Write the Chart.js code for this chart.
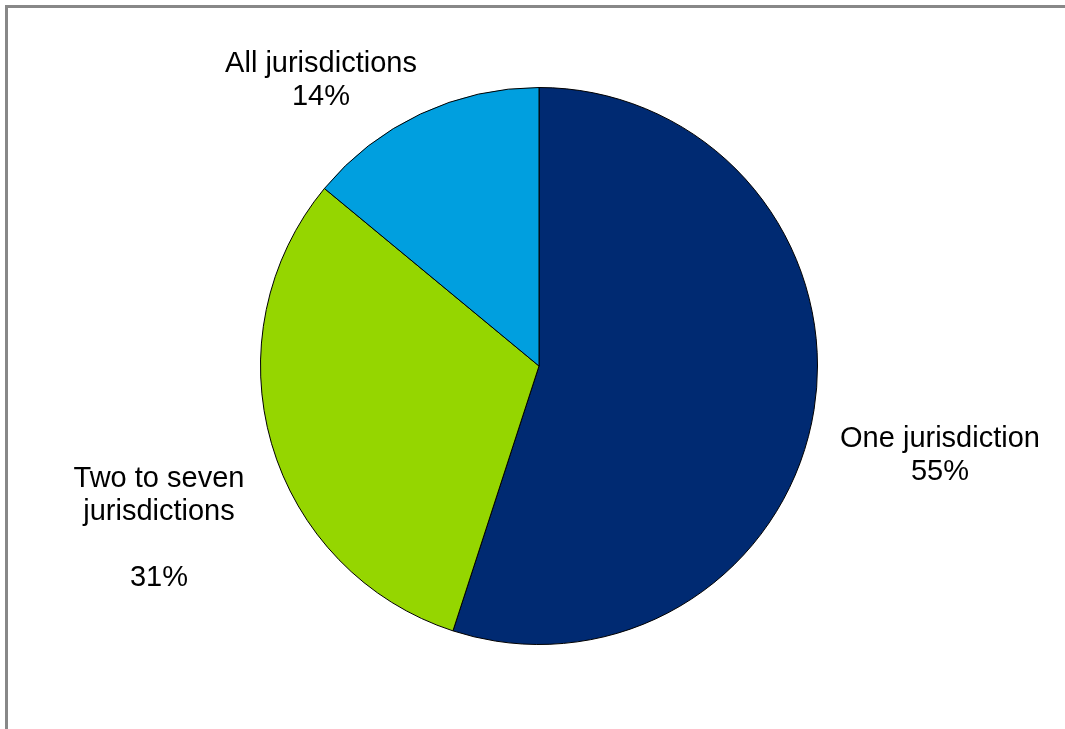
<!DOCTYPE html>
<html>
<head>
<meta charset="utf-8">
<script src="https://cdn.jsdelivr.net/npm/chart.js@4/dist/chart.umd.min.js"></script>
<style>
  html, body { margin: 0; padding: 0; background: #fff; }
  #wrap { position: relative; width: 1065px; height: 729px; }
</style>
</head>
<body>
<div id="wrap"><canvas id="myChart" width="1065" height="729"></canvas></div>
<script>
// slice names (one entry per line of the label) and shares in percent
const categories = [['One jurisdiction'], ['Two to seven', 'jurisdictions', ''], ['All jurisdictions']];
const shares = [55, 31, 14];
const colors = ['#002A72', '#95D600', '#009FDF'];

// where each label's first baseline sits, relative to the pie centre
const labelOffsets = [[401, 81], [-380, 121], [-218, -294]];

const frame = {
    id: 'frame',
    beforeDraw(chart) {
        const ctx = chart.ctx;
        ctx.save();
        ctx.strokeStyle = '#888888';
        ctx.lineWidth = 3;
        ctx.beginPath();
        ctx.moveTo(6.5, chart.height);
        ctx.lineTo(6.5, 6.5);
        ctx.lineTo(chart.width, 6.5);
        ctx.stroke();
        ctx.restore();
    }
};

const sliceLabels = {
    id: 'sliceLabels',
    afterDatasetsDraw(chart) {
        const ctx = chart.ctx;
        const arcs = chart.getDatasetMeta(0).data;
        ctx.save();
        ctx.fillStyle = '#000';
        ctx.font = '29px "Liberation Sans", Arial, sans-serif';
        ctx.textAlign = 'center';
        ctx.textBaseline = 'alphabetic';
        arcs.forEach((arc, i) => {
            const lines = categories[i].concat([shares[i] + '%']);
            const x = arc.x + labelOffsets[i][0];
            let y = arc.y + labelOffsets[i][1];
            lines.forEach(line => {
                ctx.fillText(line, x, y);
                y += 33;
            });
        });
        ctx.restore();
    }
};

const data = {
    labels: categories,
    datasets: [{
        data: shares,
        backgroundColor: colors,
        borderColor: '#000',
        borderWidth: 1
    }]
};

const config = {
    type: 'pie',
    data: data,
    options: {
        responsive: false,
        animation: false,
        events: [],
        layout: {
            padding: { top: 87, bottom: 84, left: 139, right: 126 }
        },
        plugins: {
            legend: { display: false },
            tooltip: { enabled: false }
        }
    },
    plugins: [frame, sliceLabels]
};

const myChart = new Chart(document.getElementById('myChart'), config);
</script>
</body>
</html>
